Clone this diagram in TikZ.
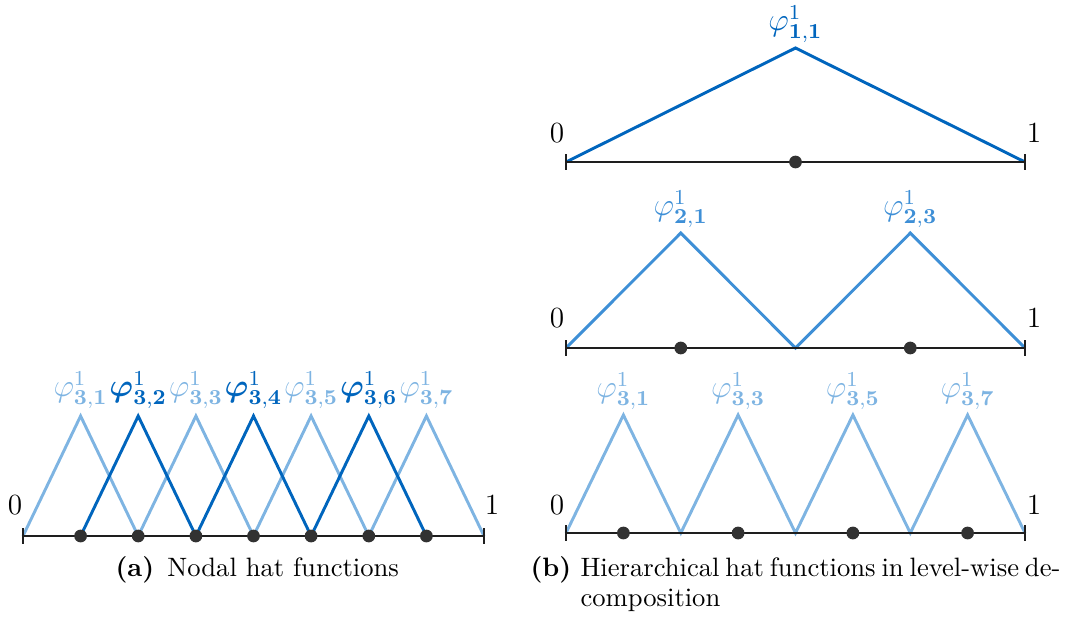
\documentclass[tikz,border=0pt]{standalone}
\usepackage{amsmath,bm}
\definecolor{hatdark}{RGB}{0,101,189}
\definecolor{hatmid}{RGB}{62,143,214}
\definecolor{hatlight}{RGB}{126,180,226}
\definecolor{axisc}{RGB}{30,30,30}
\definecolor{dotc}{RGB}{50,50,50}
\tikzset{
  axisline/.style={draw=axisc,line width=0.85pt},
  tickline/.style={draw=axisc,line width=0.85pt},
  gridpt/.style={circle,fill=dotc,inner sep=0pt,minimum size=4.8pt},
  hatline/.style={line width=1.1pt,line join=miter},
  endlabel/.style={inner sep=0pt,font=\fontsize{11}{13}\selectfont},
  hatlabel/.style={inner sep=0pt,font=\fontsize{11.5}{14}\selectfont},
}
\newcommand{\phil}[2]{$\varphi^{1}_{\mathbf{#1,#2}}$}
\newcommand{\phib}[2]{$\bm{\varphi}^{1}_{\mathbf{#1,#2}}$}
\begin{document}
\begin{tikzpicture}[x=0.376pt,y=-0.376pt]
\useasboundingbox (0,0) rectangle (1067,617);
% ================= (a) nodal =================
\coordinate (aL) at (23,536);
\coordinate (aR) at (484,536);
\foreach \i/\x in {1/80.6,2/138.2,3/195.9,4/253.5,5/311.1,6/368.8,7/426.4}{
  \coordinate (ap\i) at (\x,416);
}
\foreach \i/\x in {0/23,1/80.6,2/138.2,3/195.9,4/253.5,5/311.1,6/368.8,7/426.4,8/484}{
  \coordinate (ab\i) at (\x,536);
}
% light hats
\draw[hatline,hatlight] (ab0) -- (ap1) -- (ab2);
\draw[hatline,hatlight] (ab2) -- (ap3) -- (ab4);
\draw[hatline,hatlight] (ab4) -- (ap5) -- (ab6);
\draw[hatline,hatlight] (ab6) -- (ap7) -- (ab8);
% dark hats
\draw[hatline,hatdark] (ab1) -- (ap2) -- (ab3);
\draw[hatline,hatdark] (ab3) -- (ap4) -- (ab5);
\draw[hatline,hatdark] (ab5) -- (ap6) -- (ab7);
% axis
\draw[axisline] (aL) -- (aR);
\draw[tickline] ([yshift=-3pt]aL) -- ([yshift=3pt]aL);
\draw[tickline] ([yshift=-3pt]aR) -- ([yshift=3pt]aR);
\foreach \i in {1,...,7}{ \node[gridpt] (ad\i) at (ab\i) {}; }
\node[endlabel] (a0) at (15,505) {0};
\node[endlabel] (a1) at (492,505) {1};
% labels
\node[hatlabel,text=hatlight] (al1) at (80.6,390) {\phil{3}{1}};
\node[hatlabel,text=hatdark]  (al2) at (138.2,390) {\phib{3}{2}};
\node[hatlabel,text=hatlight] (al3) at (195.9,390) {\phil{3}{3}};
\node[hatlabel,text=hatdark]  (al4) at (253.5,390) {\phib{3}{4}};
\node[hatlabel,text=hatlight] (al5) at (311.1,390) {\phil{3}{5}};
\node[hatlabel,text=hatdark]  (al6) at (368.8,390) {\phib{3}{6}};
\node[hatlabel,text=hatlight] (al7) at (426.4,390) {\phil{3}{7}};
\node[anchor=base west,inner sep=0pt] (capa) at (115,576) {\textbf{(a)}\hspace{0.5em}Nodal hat functions};
% ================= (b) hierarchical =================
% level 1
\coordinate (l1L) at (566,162);
\coordinate (l1R) at (1025,162);
\coordinate (l1M) at (795.5,162);
\coordinate (l1P) at (795.5,48);
\draw[hatline,hatdark] (l1L) -- (l1P) -- (l1R);
\draw[axisline] (l1L) -- (l1R);
\draw[tickline] ([yshift=-3pt]l1L) -- ([yshift=3pt]l1L);
\draw[tickline] ([yshift=-3pt]l1R) -- ([yshift=3pt]l1R);
\node[gridpt] (l1d) at (l1M) {};
\node[endlabel] (l10) at (557,133) {0};
\node[endlabel] (l11) at (1034,133) {1};
\node[hatlabel,text=hatdark] (l1lab) at (795.5,24) {\phil{1}{1}};
% level 2
\coordinate (l2L) at (566,348);
\coordinate (l2R) at (1025,348);
\coordinate (l2M) at (795.5,348);
\coordinate (l2a) at (680.8,348);
\coordinate (l2b) at (910.3,348);
\coordinate (l2P1) at (680.8,233);
\coordinate (l2P3) at (910.3,233);
\draw[hatline,hatmid] (l2L) -- (l2P1) -- (l2M) -- (l2P3) -- (l2R);
\draw[axisline] (l2L) -- (l2R);
\draw[tickline] ([yshift=-3pt]l2L) -- ([yshift=3pt]l2L);
\draw[tickline] ([yshift=-3pt]l2R) -- ([yshift=3pt]l2R);
\node[gridpt] (l2d1) at (l2a) {};
\node[gridpt] (l2d3) at (l2b) {};
\node[endlabel] (l20) at (557,318) {0};
\node[endlabel] (l21) at (1034,318) {1};
\node[hatlabel,text=hatmid] (l2lab1) at (680.8,209) {\phil{2}{1}};
\node[hatlabel,text=hatmid] (l2lab3) at (910.3,209) {\phil{2}{3}};
% level 3
\foreach \i/\x in {0/566,1/623.4,2/680.8,3/738.1,4/795.5,5/852.9,6/910.3,7/967.6,8/1025}{
  \coordinate (l3b\i) at (\x,533);
}
\foreach \i/\x in {1/623.4,3/738.1,5/852.9,7/967.6}{
  \coordinate (l3p\i) at (\x,415);
}
\draw[hatline,hatlight] (l3b0) -- (l3p1) -- (l3b2) -- (l3p3) -- (l3b4) -- (l3p5) -- (l3b6) -- (l3p7) -- (l3b8);
\draw[axisline] (l3b0) -- (l3b8);
\draw[tickline] ([yshift=-3pt]l3b0) -- ([yshift=3pt]l3b0);
\draw[tickline] ([yshift=-3pt]l3b8) -- ([yshift=3pt]l3b8);
\foreach \i in {1,3,5,7}{ \node[gridpt] (l3d\i) at (l3b\i) {}; }
\node[endlabel] (l30) at (557,505) {0};
\node[endlabel] (l31) at (1034,505) {1};
\node[hatlabel,text=hatlight] (l3lab1) at (623.4,391) {\phil{3}{1}};
\node[hatlabel,text=hatlight] (l3lab3) at (738.1,391) {\phil{3}{3}};
\node[hatlabel,text=hatlight] (l3lab5) at (852.9,391) {\phil{3}{5}};
\node[hatlabel,text=hatlight] (l3lab7) at (967.6,391) {\phil{3}{7}};
\node[anchor=base west,inner sep=0pt] (capb) at (530,576) {\textbf{(b)}};
\node[anchor=base west,inner sep=0pt] (capb1) at (580,576) {\hbox to 179pt{Hierarchical hat functions in level-wise de-}};
\node[anchor=base west,inner sep=0pt] (capb2) at (580,606) {composition};
\end{tikzpicture}
\end{document}
